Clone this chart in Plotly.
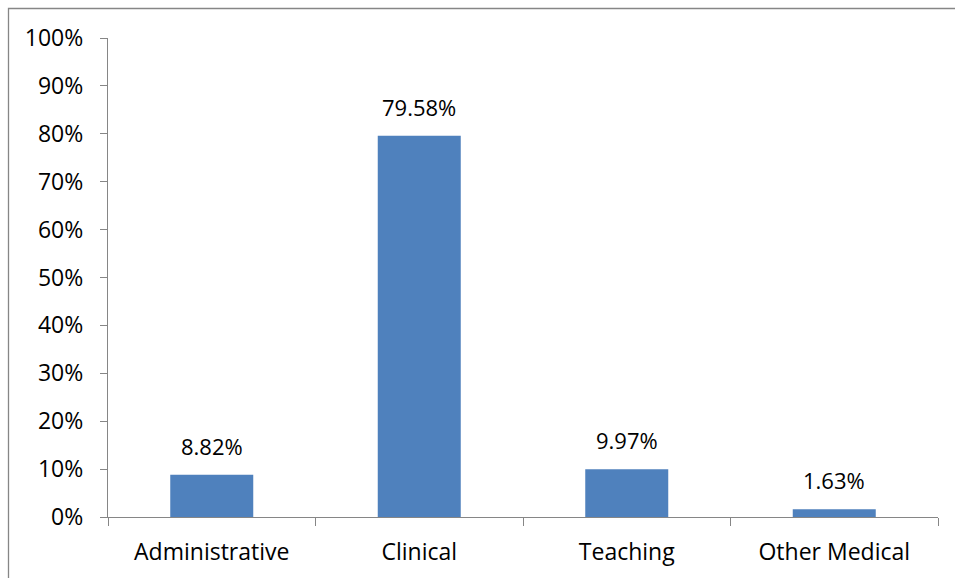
import plotly.graph_objects as go

categories = ["Administrative", "Clinical", "Teaching", "Other Medical"]
values = [8.82, 79.58, 9.97, 1.63]
labels = ["8.82%", "79.58%", "9.97%", "1.63%"]

bar_color = "#4F81BD"
axis_color = "#868686"
font_family = "Open Sans, Noto Sans, Liberation Sans, sans-serif"

fig = go.Figure()
fig.add_trace(go.Bar(x=categories, y=values, width=0.4, marker=dict(color=bar_color, line=dict(width=0)), hoverinfo="skip"))

for c, v, t in zip(categories, values, labels):
    fig.add_annotation(x=c, y=v, text=t, showarrow=False, yanchor="bottom", yshift=12,
                       font=dict(family=font_family, size=22, color="#000000"))

fig.update_layout(
    width=955, height=578,
    margin=dict(l=108, r=17, t=38, b=61),
    paper_bgcolor="white", plot_bgcolor="white",
    showlegend=False,
    font=dict(family=font_family, size=23, color="#000000"),
)
fig.update_xaxes(
    type="category", range=[-0.5, 3.5], showline=True, linecolor=axis_color, linewidth=1.3,
    ticks="outside", ticklen=8, tickcolor=axis_color, tickwidth=1.3, tickson="boundaries",
    showgrid=False, zeroline=False, ticklabelstandoff=14,
)
fig.update_yaxes(
    range=[0, 100], dtick=10, ticksuffix="%", showline=True, linecolor=axis_color, linewidth=1.3,
    ticks="outside", ticklen=7, tickcolor=axis_color, tickwidth=1.3,
    showgrid=False, zeroline=False, ticklabelstandoff=12,
)
bx0 = (8.5 - 108) / 830
bx1 = (1000 - 108) / 830
by0 = -(700 - 517) / 479
by1 = 1 + (38 - 8.5) / 479
fig.add_shape(type="path", xref="paper", yref="paper",
              path=f"M {bx0} {by0} L {bx0} {by1} L {bx1} {by1}",
              line=dict(color=axis_color, width=1.3), layer="below")

fig.write_html(
    "out.html",
    config={"displayModeBar": False},
    post_script="document.body.style.margin='0';document.documentElement.style.overflow='hidden';document.body.style.overflow='hidden';",
)
